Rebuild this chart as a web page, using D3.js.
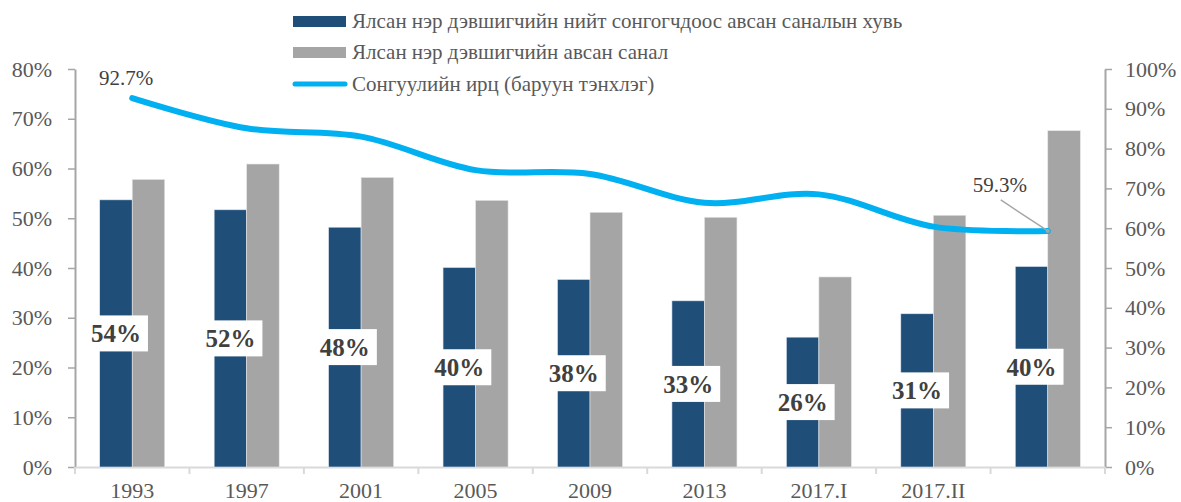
<!DOCTYPE html>
<html>
<head>
<meta charset="utf-8">
<script src="https://cdn.jsdelivr.net/npm/d3@7"></script>
<style>
body { margin: 0; background: #fff; }
svg text { font-family: "Liberation Serif", "Times New Roman", serif; }
</style>
</head>
<body>
<div id="chart"></div>
<script>
// DATA -----------------------------------------------------
var categories = ["1993", "1997", "2001", "2005", "2009", "2013", "2017.I", "2017.II", ""];
// share of all eligible voters won by the winning candidate (left axis)
var shareAll = [0.537, 0.517, 0.482, 0.401, 0.377, 0.334, 0.261, 0.308, 0.403];
// share of votes cast won by the winning candidate (left axis)
var shareVotes = [0.578, 0.609, 0.582, 0.536, 0.512, 0.502, 0.382, 0.506, 0.676];
// turnout (right axis)
var turnout = [0.927, 0.851, 0.830, 0.746, 0.736, 0.664, 0.685, 0.604, 0.593];
var shareLabels = ["54%", "52%", "48%", "40%", "38%", "33%", "26%", "31%", "40%"];
var leftTicks = [0, 0.1, 0.2, 0.3, 0.4, 0.5, 0.6, 0.7, 0.8];
var rightTicks = [0, 0.1, 0.2, 0.3, 0.4, 0.5, 0.6, 0.7, 0.8, 0.9, 1.0];
var legendNames = [
  "Ялсан нэр дэвшигчийн нийт сонгогчдоос авсан саналын хувь",
  "Ялсан нэр дэвшигчийн авсан санал",
  "Сонгуулийн ирц (баруун тэнхлэг)"
];

// SETUP ----------------------------------------------------
var W = 1181, H = 502;
var plot = { left: 75, right: 1105, top: 69, bottom: 467 };
var col_navy = "#1f4e79", col_gray = "#a5a5a5", col_line = "#00b0f0";
var col_text = "#595959", col_label = "#404040";
var serif = "Liberation Serif";

var svg = d3.select("#chart").append("svg")
  .attr("width", W).attr("height", H);

var x0 = d3.scaleBand().domain(categories).range([plot.left, plot.right]).padding(0);
var x1 = d3.scaleBand().domain(["all", "votes"]).range([0, x0.bandwidth()])
  .paddingInner(0).paddingOuter(0.76);
var yL = d3.scaleLinear().domain([0, 0.8]).range([plot.bottom, plot.top]);
var yR = d3.scaleLinear().domain([0, 1]).range([plot.bottom, plot.top]);

var rows = categories.map(function(c, i) {
  return { cat: c, all: shareAll[i], votes: shareVotes[i], turnout: turnout[i], label: shareLabels[i] };
});

// AXES -----------------------------------------------------
var axL = svg.append("g")
  .attr("transform", "translate(" + plot.left + ",0)")
  .call(d3.axisLeft(yL).tickValues(leftTicks).tickFormat(d3.format(".0%"))
    .tickSize(7).tickSizeOuter(0).tickPadding(16));
axL.attr("font-family", serif);
axL.select(".domain").attr("stroke", "#a6a6a6").attr("stroke-width", 2);
axL.selectAll(".tick line").attr("stroke", "#a6a6a6").attr("stroke-width", 1.5);
axL.selectAll(".tick text").attr("fill", col_text).style("font-size", "22px");

var axR = svg.append("g")
  .attr("transform", "translate(" + plot.right + ",0)")
  .call(d3.axisRight(yR).tickValues(rightTicks).tickFormat(d3.format(".0%"))
    .tickSize(7).tickSizeOuter(0).tickPadding(13));
axR.attr("font-family", serif);
axR.select(".domain").attr("stroke", "#a6a6a6").attr("stroke-width", 2);
axR.selectAll(".tick line").attr("stroke", "#a6a6a6").attr("stroke-width", 1.5);
axR.selectAll(".tick text").attr("fill", col_text).style("font-size", "22px");

// bottom axis: labels centred, tick marks on category boundaries
var axB = svg.append("g")
  .attr("transform", "translate(0," + plot.bottom + ")")
  .call(d3.axisBottom(x0).tickSize(0).tickSizeOuter(0));
axB.attr("font-family", serif);
axB.select(".domain").attr("stroke", "#d9d9d9").attr("stroke-width", 2);
axB.selectAll(".tick text").attr("fill", col_text).style("font-size", "22px")
  .attr("y", 31).attr("dy", 0);
var bounds = categories.map(function(c) { return x0(c); }).concat([x0.range()[1]]);
axB.selectAll(".boundary")
  .data(bounds)
  .enter().append("line")
  .attr("class", "boundary")
  .attr("x1", function(d) { return d; })
  .attr("x2", function(d) { return d; })
  .attr("y1", 0).attr("y2", 7)
  .attr("stroke", "#d9d9d9").attr("stroke-width", 2);

// BARS -----------------------------------------------------
var groups = svg.append("g").selectAll("g")
  .data(rows).enter().append("g")
  .attr("transform", function(d) { return "translate(" + x0(d.cat) + ",0)"; });

groups.append("rect")
  .attr("x", x1("all")).attr("width", x1.bandwidth())
  .attr("y", function(d) { return yL(d.all); })
  .attr("height", function(d) { return yL(0) - yL(d.all); })
  .attr("fill", col_navy).attr("stroke", "#dce6f0").attr("stroke-width", 0.6);

groups.append("rect")
  .attr("x", x1("votes")).attr("width", x1.bandwidth())
  .attr("y", function(d) { return yL(d.votes); })
  .attr("height", function(d) { return yL(0) - yL(d.votes); })
  .attr("fill", col_gray).attr("stroke", "#e6e6e6").attr("stroke-width", 0.6);

// LINE -----------------------------------------------------
var lineGen = d3.line()
  .x(function(d) { return x0(d.cat) + x0.bandwidth() / 2; })
  .y(function(d) { return yR(d.turnout); })
  .curve(d3.curveCatmullRom.alpha(0.5));

svg.append("path")
  .datum(rows)
  .attr("d", lineGen)
  .attr("fill", "none")
  .attr("stroke", col_line)
  .attr("stroke-width", 6)
  .attr("stroke-linecap", "round");

// turnout annotations
var first = rows[0], last = rows[rows.length - 1];
svg.append("text")
  .attr("x", x0(first.cat) + x0.bandwidth() / 2 - 6)
  .attr("y", yR(first.turnout) - 13)
  .attr("text-anchor", "middle")
  .style("font-size", "21px").attr("fill", col_label)
  .text(d3.format(".1%")(first.turnout));

var lastX = x0(last.cat) + x0.bandwidth() / 2;
svg.append("line")
  .attr("x1", lastX - 47).attr("y1", yR(last.turnout) - 31)
  .attr("x2", lastX).attr("y2", yR(last.turnout))
  .attr("stroke", "#a6a6a6").attr("stroke-width", 1.5);
svg.append("circle")
  .attr("cx", lastX).attr("cy", yR(last.turnout)).attr("r", 2)
  .attr("fill", "#a6a6a6");
svg.append("text")
  .attr("x", lastX - 48)
  .attr("y", yR(last.turnout) - 39)
  .attr("text-anchor", "middle")
  .style("font-size", "21px").attr("fill", col_label)
  .text(d3.format(".1%")(last.turnout));

// DATA LABELS ----------------------------------------------
var labels = svg.append("g").selectAll("g")
  .data(rows).enter().append("g")
  .attr("transform", function(d) {
    return "translate(" + (x0(d.cat) + x1("all") + x1.bandwidth() / 2) + "," + yL(d.all / 2) + ")";
  });
labels.append("rect")
  .attr("x", -32).attr("y", -18).attr("width", 64).attr("height", 36)
  .attr("fill", "#fff");
labels.append("text")
  .attr("text-anchor", "middle").attr("dy", "0.35em")
  .style("font-size", "25px").style("font-weight", "bold")
  .attr("fill", col_label)
  .text(function(d) { return d.label; });

// LEGEND ---------------------------------------------------
var legend = svg.append("g").attr("transform", "translate(293,0)");
var legendY = [21, 52, 84];
legend.append("rect").attr("x", 0).attr("y", legendY[0] - 5).attr("width", 53).attr("height", 11).attr("fill", col_navy);
legend.append("rect").attr("x", 0).attr("y", legendY[1] - 5).attr("width", 53).attr("height", 11).attr("fill", col_gray);
legend.append("line").attr("x1", 2).attr("x2", 52).attr("y1", legendY[2]).attr("y2", legendY[2])
  .attr("stroke", col_line).attr("stroke-width", 5).attr("stroke-linecap", "round");
legend.selectAll("text.leg")
  .data(legendNames).enter().append("text")
  .attr("class", "leg")
  .attr("x", 59)
  .attr("y", function(d, i) { return legendY[i]; })
  .attr("dy", "0.35em")
  .style("font-size", "21px").attr("fill", col_text)
  .text(function(d) { return d; });
</script>
</body>
</html>
